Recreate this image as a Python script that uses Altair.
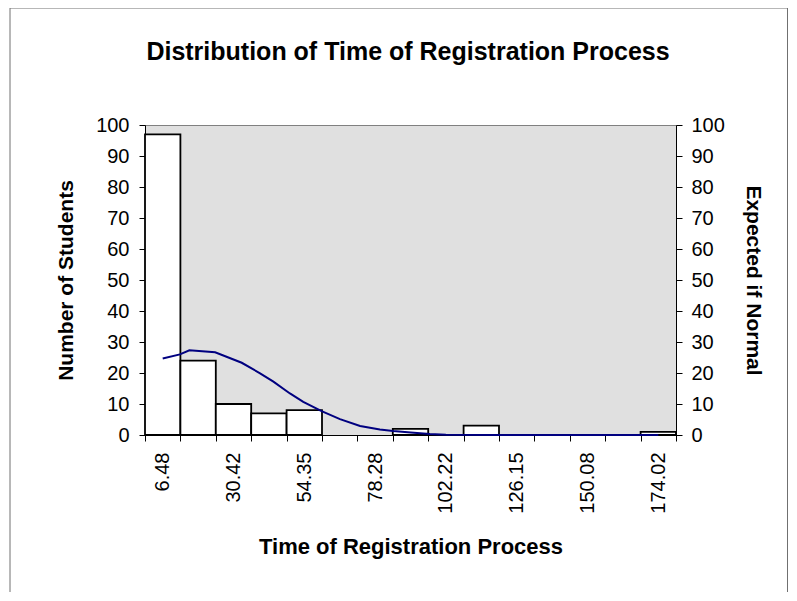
import altair as alt
import pandas as pd

# ---- data ----
chart_title = "Distribution of Time of Registration Process"
bin_centers = [6.48, 18.45, 30.42, 42.38, 54.35, 66.32, 78.28, 90.25,
               102.22, 114.18, 126.15, 138.12, 150.08, 162.05, 174.02]
counts = [97, 24, 10, 7, 8, 0, 0, 2, 0, 3, 0, 0, 0, 0, 1]
tick_labels = ["6.48", "30.42", "54.35", "78.28", "102.22", "126.15", "150.08", "174.02"]

curve_x = [6.48, 12.3, 15.5, 24.2, 33.2, 39.4, 43.9, 49.5, 54.0, 60.2,
           66.4, 73.2, 79.9, 84.4, 90.3, 96.8, 102.2, 120.0, 140.0, 160.0, 174.02]
curve_y = [24.7, 26.0, 27.3, 26.7, 23.3, 19.9, 17.2, 13.4, 10.7, 7.7,
           5.1, 2.9, 1.8, 1.3, 0.8, 0.3, 0.05, 0.0, 0.0, 0.0, 0.0]

y_ticks = list(range(0, 101, 10))

# ---- derived structure ----
bw = (bin_centers[-1] - bin_centers[0]) / (len(bin_centers) - 1)
edges = [bin_centers[0] - bw / 2 + k * bw for k in range(len(bin_centers) + 1)]
label_vals = [float(s) for s in tick_labels]

bars_df = pd.DataFrame({
    "lo": edges[:-1],
    "hi": edges[1:],
    "count": counts,
})
curve_df = pd.DataFrame({"x": curve_x, "y": curve_y})

FONT = "Liberation Sans"
W, H = 531, 310
PAD_L, PAD_T = 137, 117
TOTAL_W, TOTAL_H = 781, 584

centers_js = "[" + ",".join(str(v) for v in label_vals) + "]"
label_expr = f"indexof({centers_js}, datum.value) >= 0 ? format(datum.value, '.2f') : ''"
is_center = f"indexof({centers_js}, datum.value) >= 0"

x_scale = alt.Scale(domain=[edges[0], edges[-1]], nice=False, zero=False)
y_scale = alt.Scale(domain=[0, 100], nice=False)

x_axis = alt.Axis(
    values=sorted(edges + label_vals),
    labelExpr=label_expr,
    tickOpacity={"condition": {"test": is_center, "value": 0}, "value": 1},
    labelAngle=270,
    labelAlign="right",
    labelBaseline="middle",
    labelPadding=11,
    tickSize=6,
    title="Time of Registration Process",
    titleFontSize=22,
    titlePadding=23,
    grid=False,
    labelOverlap=False,
    labelBound=False,
)

frame = alt.Chart(pd.DataFrame({"k": [0]})).mark_rect(
    fill=None, stroke="#707070", strokeWidth=1
).encode(
    x=alt.value(-135), x2=alt.value(TOTAL_W - PAD_L - 1.5),
    y=alt.value(-117), y2=alt.value(500),
)

title_mark = alt.Chart(pd.DataFrame({"t": [chart_title]})).mark_text(
    font=FONT, fontSize=25, fontWeight="bold", color="black",
    align="center", baseline="alphabetic"
).encode(
    x=alt.value(263), y=alt.value(-65), text="t:N"
)

bars = alt.Chart(bars_df).transform_filter("datum.count > 0").mark_rect(
    fill="white", stroke="black", strokeWidth=1.8
).encode(
    x=alt.X("lo:Q", scale=x_scale, axis=x_axis),
    x2="hi:Q",
    y=alt.Y("count:Q", scale=y_scale,
            axis=alt.Axis(values=y_ticks, title="Number of Students",
                          tickSize=6, labelPadding=10, titlePadding=19, grid=False)),
    y2=alt.datum(0),
)

line = alt.Chart(curve_df).mark_line(color="#000080", strokeWidth=2).encode(
    x=alt.X("x:Q", scale=x_scale, axis=x_axis),
    y=alt.Y("y:Q", scale=y_scale,
            axis=alt.Axis(orient="right", values=y_ticks, title="Expected if Normal",
                          tickSize=6, labelPadding=9, titlePadding=18, grid=False,
                          titleAngle=90)),
)

chart = alt.layer(frame, title_mark, bars, line).resolve_scale(y="independent").properties(
    width=W, height=H,
    background="white",
    autosize=alt.AutoSizeParams(type="none"),
    padding={"left": PAD_L, "top": PAD_T,
             "right": TOTAL_W - PAD_L - W, "bottom": TOTAL_H - PAD_T - H},
).configure_view(
    fill="#e0e0e0", stroke="#808080", strokeWidth=1
).configure_axis(
    labelFont=FONT, titleFont=FONT, labelFontSize=20, titleFontSize=21,
    labelColor="black", titleColor="black", titleFontWeight="bold",
    domainColor="black", tickColor="black", domainWidth=1, tickWidth=1,
)

chart.save("out.html", embed_options={"renderer": "svg", "actions": False})
